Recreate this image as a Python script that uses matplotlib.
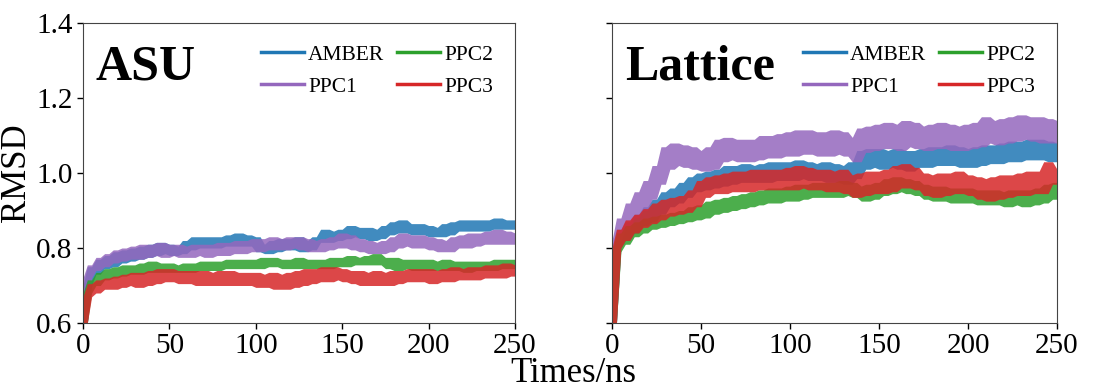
import numpy as np
import matplotlib
matplotlib.use('Agg')
import matplotlib.pyplot as plt
from matplotlib.lines import Line2D

plt.rcParams['font.family'] = ['Liberation Serif', 'DejaVu Serif']

# time axis, ns (one sample every 2.5 ns)
time_ns = np.arange(0, 250.01, 2.5)

series_names = ['AMBER', 'PPC1', 'PPC2', 'PPC3']
colors = ['#1f77b4', '#9467bd', '#2ca02c', '#d62728']

# ---- ASU ----
asu_amber = [
    0.60, 0.70, 0.75, 0.73, 0.77, 0.745, 0.78, 0.75, 0.79, 0.76,
    0.795, 0.765, 0.80, 0.77, 0.805, 0.775, 0.81, 0.78, 0.815, 0.785,
    0.81, 0.78, 0.805, 0.785, 0.82, 0.795, 0.83, 0.80, 0.83, 0.80,
    0.83, 0.80, 0.83, 0.805, 0.835, 0.805, 0.84, 0.805, 0.835, 0.805,
    0.83, 0.79, 0.81, 0.785, 0.82, 0.79, 0.825, 0.795, 0.825, 0.795,
    0.83, 0.79, 0.82, 0.795, 0.83, 0.815, 0.85, 0.815, 0.845, 0.82,
    0.85, 0.825, 0.86, 0.83, 0.855, 0.825, 0.855, 0.82, 0.85, 0.825,
    0.86, 0.835, 0.87, 0.84, 0.875, 0.84, 0.865, 0.835, 0.865, 0.835,
    0.86, 0.83, 0.855, 0.83, 0.865, 0.835, 0.87, 0.845, 0.875, 0.845,
    0.875, 0.845, 0.875, 0.845, 0.875, 0.85, 0.88, 0.85, 0.875, 0.85,
    0.875]
asu_ppc1 = [
    0.60, 0.72, 0.755, 0.74, 0.775, 0.75, 0.785, 0.76, 0.795, 0.765,
    0.80, 0.77, 0.805, 0.77, 0.81, 0.775, 0.81, 0.78, 0.815, 0.775,
    0.81, 0.78, 0.81, 0.775, 0.805, 0.775, 0.81, 0.78, 0.81, 0.775,
    0.81, 0.78, 0.815, 0.78, 0.815, 0.785, 0.82, 0.785, 0.82, 0.79,
    0.825, 0.79, 0.825, 0.795, 0.83, 0.795, 0.825, 0.795, 0.83, 0.80,
    0.83, 0.795, 0.825, 0.79, 0.82, 0.79, 0.825, 0.795, 0.83, 0.80,
    0.84, 0.80, 0.835, 0.795, 0.825, 0.79, 0.82, 0.785, 0.815, 0.785,
    0.82, 0.79, 0.83, 0.80, 0.84, 0.805, 0.835, 0.80, 0.835, 0.80,
    0.83, 0.795, 0.825, 0.79, 0.82, 0.79, 0.83, 0.80, 0.835, 0.80,
    0.84, 0.805, 0.84, 0.81, 0.845, 0.81, 0.85, 0.81, 0.845, 0.81,
    0.84]
asu_ppc2 = [
    0.60, 0.68, 0.715, 0.70, 0.735, 0.715, 0.745, 0.72, 0.75, 0.725,
    0.755, 0.73, 0.755, 0.73, 0.76, 0.735, 0.765, 0.735, 0.76, 0.735,
    0.76, 0.735, 0.755, 0.735, 0.76, 0.735, 0.76, 0.74, 0.765, 0.74,
    0.765, 0.74, 0.765, 0.745, 0.77, 0.745, 0.77, 0.745, 0.77, 0.745,
    0.77, 0.745, 0.775, 0.75, 0.775, 0.75, 0.77, 0.745, 0.77, 0.745,
    0.775, 0.745, 0.77, 0.745, 0.77, 0.745, 0.77, 0.745, 0.775, 0.75,
    0.775, 0.75, 0.78, 0.755, 0.775, 0.755, 0.78, 0.755, 0.785, 0.755,
    0.775, 0.745, 0.775, 0.74, 0.77, 0.745, 0.77, 0.74, 0.77, 0.74,
    0.77, 0.74, 0.765, 0.74, 0.77, 0.74, 0.765, 0.74, 0.765, 0.735,
    0.765, 0.74, 0.765, 0.74, 0.765, 0.74, 0.77, 0.745, 0.77, 0.745,
    0.77]
asu_ppc3 = [
    0.60, 0.67, 0.705, 0.68, 0.715, 0.69, 0.72, 0.69, 0.725, 0.695,
    0.73, 0.70, 0.735, 0.695, 0.735, 0.70, 0.74, 0.705, 0.745, 0.71,
    0.745, 0.71, 0.74, 0.705, 0.74, 0.705, 0.74, 0.70, 0.74, 0.70,
    0.735, 0.70, 0.74, 0.70, 0.74, 0.70, 0.735, 0.70, 0.735, 0.70,
    0.735, 0.695, 0.73, 0.695, 0.735, 0.69, 0.73, 0.69, 0.735, 0.695,
    0.74, 0.70, 0.745, 0.705, 0.745, 0.71, 0.75, 0.71, 0.75, 0.715,
    0.745, 0.71, 0.74, 0.705, 0.74, 0.70, 0.735, 0.70, 0.74, 0.70,
    0.735, 0.70, 0.74, 0.705, 0.74, 0.71, 0.745, 0.71, 0.745, 0.71,
    0.745, 0.705, 0.74, 0.71, 0.745, 0.71, 0.75, 0.715, 0.745, 0.715,
    0.75, 0.715, 0.75, 0.72, 0.755, 0.72, 0.755, 0.72, 0.76, 0.725,
    0.755]

# ---- Lattice ----
lat_amber = [
    0.60, 0.80, 0.85, 0.82, 0.87, 0.84, 0.89, 0.86, 0.91, 0.87,
    0.93, 0.89, 0.95, 0.91, 0.96, 0.92, 0.975, 0.935, 0.99, 0.95,
    1.00, 0.955, 1.005, 0.96, 1.01, 0.965, 1.02, 0.97, 1.02, 0.975,
    1.025, 0.975, 1.02, 0.975, 1.025, 0.975, 1.03, 0.98, 1.03, 0.98,
    1.03, 0.98, 1.035, 0.985, 1.03, 0.98, 1.025, 0.98, 1.03, 0.975,
    1.025, 0.975, 1.02, 0.97, 1.03, 0.985, 1.06, 1.01, 1.065, 1.015,
    1.065, 1.01, 1.06, 1.015, 1.065, 1.01, 1.06, 1.005, 1.06, 1.015,
    1.065, 1.015, 1.07, 1.02, 1.07, 1.02, 1.075, 1.02, 1.07, 1.015,
    1.065, 1.015, 1.07, 1.02, 1.075, 1.025, 1.075, 1.025, 1.08, 1.03,
    1.085, 1.03, 1.085, 1.035, 1.09, 1.035, 1.09, 1.035, 1.085, 1.03,
    1.08]
lat_ppc1 = [
    0.60, 0.82, 0.88, 0.85, 0.92, 0.88, 0.95, 0.90, 0.98, 0.93,
    1.02, 0.97, 1.07, 1.01, 1.08, 1.02, 1.075, 1.015, 1.07, 1.01,
    1.06, 1.005, 1.07, 1.01, 1.09, 1.03, 1.095, 1.035, 1.09, 1.03,
    1.09, 1.03, 1.09, 1.035, 1.10, 1.04, 1.10, 1.04, 1.105, 1.045,
    1.11, 1.045, 1.115, 1.05, 1.115, 1.05, 1.11, 1.045, 1.11, 1.045,
    1.115, 1.05, 1.11, 1.045, 1.095, 1.03, 1.12, 1.055, 1.125, 1.06,
    1.13, 1.065, 1.135, 1.065, 1.13, 1.06, 1.14, 1.07, 1.135, 1.065,
    1.125, 1.06, 1.13, 1.065, 1.135, 1.065, 1.13, 1.06, 1.125, 1.06,
    1.13, 1.065, 1.135, 1.07, 1.15, 1.08, 1.14, 1.075, 1.145, 1.08,
    1.15, 1.085, 1.155, 1.09, 1.15, 1.085, 1.15, 1.08, 1.145, 1.08,
    1.14]
lat_ppc2 = [
    0.60, 0.79, 0.84, 0.81, 0.86, 0.83, 0.87, 0.84, 0.88, 0.85,
    0.885, 0.855, 0.89, 0.86, 0.895, 0.865, 0.90, 0.87, 0.91, 0.875,
    0.915, 0.88, 0.925, 0.89, 0.93, 0.895, 0.935, 0.90, 0.94, 0.905,
    0.945, 0.91, 0.95, 0.915, 0.955, 0.92, 0.96, 0.92, 0.96, 0.925,
    0.965, 0.925, 0.97, 0.93, 0.97, 0.935, 0.975, 0.935, 0.975, 0.935,
    0.975, 0.935, 0.98, 0.94, 0.975, 0.935, 0.965, 0.925, 0.97, 0.93,
    0.975, 0.94, 0.985, 0.945, 0.99, 0.95, 0.985, 0.945, 0.98, 0.94,
    0.97, 0.93, 0.965, 0.925, 0.965, 0.925, 0.96, 0.92, 0.96, 0.92,
    0.96, 0.92, 0.955, 0.915, 0.955, 0.915, 0.955, 0.915, 0.95, 0.91,
    0.955, 0.915, 0.955, 0.91, 0.955, 0.915, 0.96, 0.92, 0.97, 0.93,
    0.975]
lat_ppc3 = [
    0.60, 0.80, 0.85, 0.82, 0.875, 0.84, 0.89, 0.855, 0.905, 0.865,
    0.92, 0.875, 0.93, 0.885, 0.935, 0.89, 0.94, 0.895, 0.955, 0.91,
    0.98, 0.935, 0.99, 0.945, 0.995, 0.945, 1.00, 0.95, 1.005, 0.95,
    1.005, 0.95, 1.01, 0.955, 1.01, 0.955, 1.01, 0.955, 1.01, 0.955,
    1.015, 0.955, 1.02, 0.96, 1.015, 0.955, 1.01, 0.955, 1.01, 0.95,
    1.005, 0.95, 1.01, 0.945, 0.995, 0.935, 1.00, 0.94, 1.005, 0.945,
    1.005, 0.945, 1.01, 0.95, 1.02, 0.96, 1.025, 0.96, 1.015, 0.955,
    1.00, 0.94, 0.995, 0.935, 1.00, 0.94, 1.00, 0.945, 1.005, 0.945,
    0.995, 0.94, 0.99, 0.93, 0.985, 0.925, 0.99, 0.93, 0.995, 0.935,
    0.995, 0.94, 1.00, 0.94, 1.005, 0.945, 1.005, 0.945, 1.03, 0.97,
    1.01]

panels = [
    ('ASU', [asu_amber, asu_ppc1, asu_ppc2, asu_ppc3]),
    ('Lattice', [lat_amber, lat_ppc1, lat_ppc2, lat_ppc3]),
]

fig = plt.figure(figsize=(11.03, 3.91), dpi=100)
ax_rects = [
    [83 / 1103, 1 - 323 / 391, 432 / 1103, 300 / 391],
    [612 / 1103, 1 - 323 / 391, 445 / 1103, 300 / 391],
]


def envelope(v):
    # band swept by the noisy trace (min/max of each sample and its neighbours)
    v = np.asarray(v)
    pad = np.concatenate([[v[0]], v, [v[-1]]])
    win = np.vstack([pad[:-2], pad[1:-1], pad[2:]])
    return win.min(axis=0), win.max(axis=0)


for i, (title, data) in enumerate(panels):
    ax = fig.add_axes(ax_rects[i])
    for name, vals, c in zip(series_names, data, colors):
        lo, hi = envelope(vals)
        ax.fill_between(time_ns, lo, hi, color=c, alpha=0.85, lw=0)
    ax.set_xlim(0, 250)
    ax.set_ylim(0.6, 1.4)
    ax.set_xticks([0, 50, 100, 150, 200, 250])
    ax.set_yticks([0.6, 0.8, 1.0, 1.2, 1.4])
    ax.tick_params(labelsize=21, length=4, width=1)
    for sp in ax.spines.values():
        sp.set_color('#444444')
    if i == 0:
        ax.set_yticklabels(['0.6', '0.8', '1.0', '1.2', '1.4'])
        ax.set_ylabel('RMSD', fontsize=25, labelpad=2)
    else:
        ax.set_yticklabels([])
    ax.text(0.03, 0.93, title, transform=ax.transAxes, fontsize=36,
            fontweight='bold', va='top', ha='left')
    handles = [Line2D([0], [0], color=c, lw=2.5) for c in colors]
    ax.legend(handles, series_names, ncol=2, loc='upper right', frameon=False,
              fontsize=15.5, handlelength=2.0, handletextpad=0.2,
              columnspacing=0.6, labelspacing=0.55, borderaxespad=0.6)

fig.text(573 / 1103, 1 - 382 / 391, 'Times/ns', fontsize=25,
         ha='center', va='baseline')

fig.savefig('out.png', dpi=100)
